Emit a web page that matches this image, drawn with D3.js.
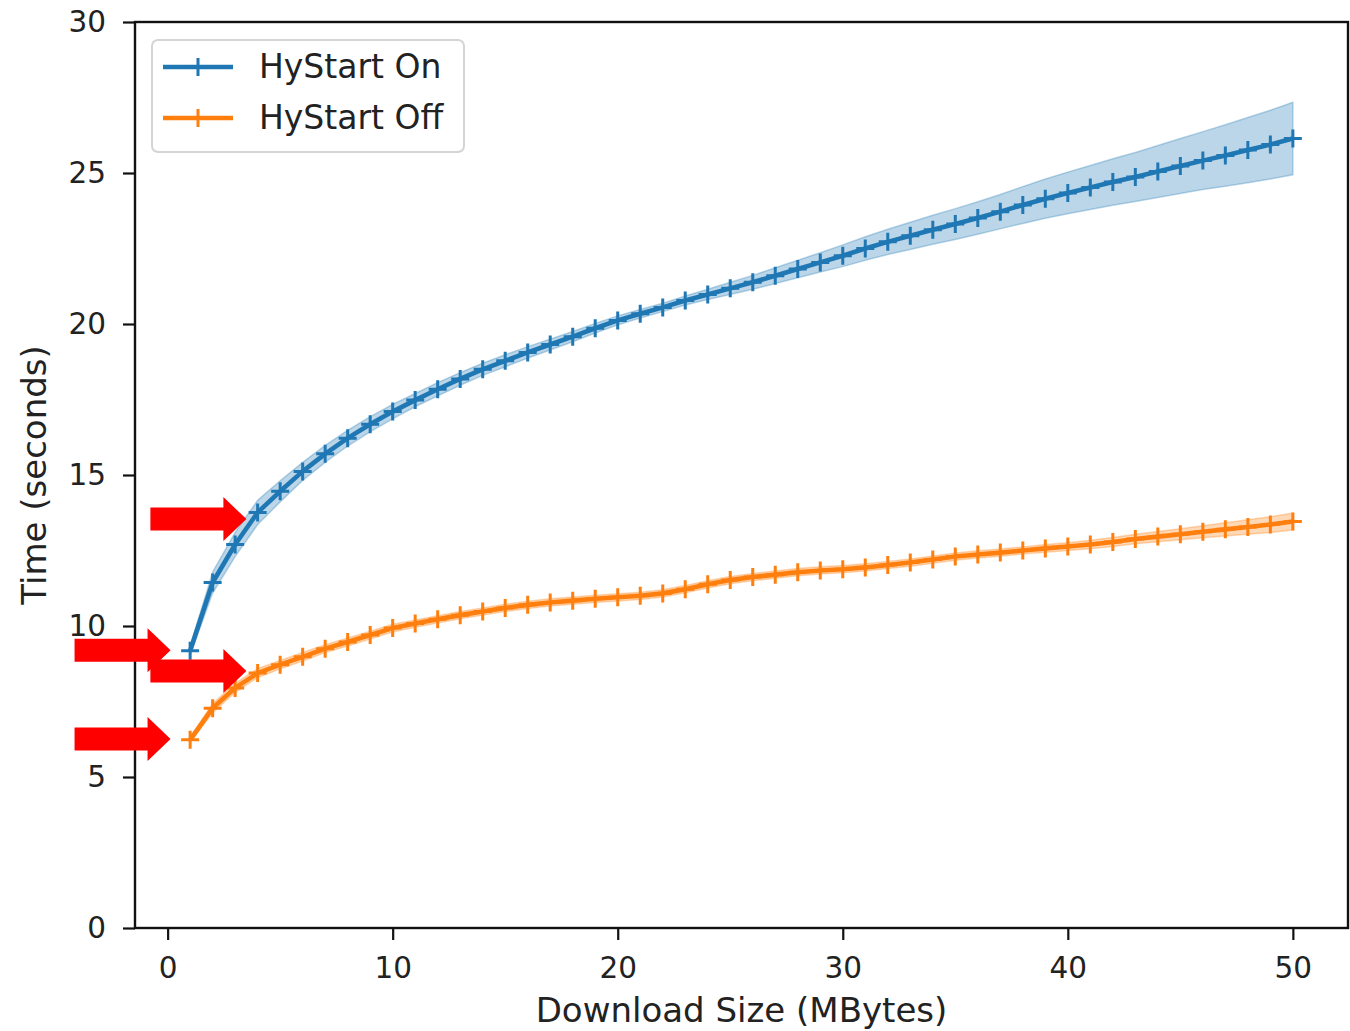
<!DOCTYPE html>
<html>
<head>
<meta charset="utf-8">
<script src="https://cdn.jsdelivr.net/npm/d3@7"></script>
<style>
  html, body { margin: 0; padding: 0; background: #fff; }
  svg { display: block; }
  text { font-family: "DejaVu Sans", sans-serif; fill: #222; }
</style>
</head>
<body>
<svg id="chart" width="1350" height="1031"></svg>
<script>
// Download size in MBytes
const sizes = [1,2,3,4,5,6,7,8,9,10,11,12,13,14,15,16,17,18,19,20,21,22,23,24,25,
               26,27,28,29,30,31,32,33,34,35,36,37,38,39,40,41,42,43,44,45,46,47,48,49,50];

// Mean completion time (seconds), HyStart enabled
const hystartOn = [9.18,11.44,12.70,13.76,14.46,15.12,15.70,16.22,16.68,17.10,
                   17.48,17.84,18.18,18.50,18.78,19.06,19.32,19.58,19.86,20.12,
                   20.34,20.55,20.78,20.98,21.18,21.38,21.60,21.82,22.04,22.26,
                   22.50,22.72,22.92,23.12,23.31,23.51,23.72,23.94,24.15,24.34,
                   24.52,24.70,24.87,25.05,25.23,25.41,25.58,25.76,25.94,26.14];
// Half-width of the spread band, HyStart enabled
const hystartOnSpread = [0.15,0.35,0.40,0.40,0.35,0.30,0.28,0.26,0.25,0.24,
                         0.22,0.22,0.21,0.20,0.20,0.19,0.18,0.17,0.16,0.15,
                         0.14,0.14,0.15,0.17,0.20,0.23,0.26,0.29,0.32,0.36,
                         0.39,0.42,0.45,0.48,0.51,0.54,0.57,0.61,0.65,0.69,
                         0.73,0.77,0.81,0.86,0.91,0.96,1.02,1.08,1.14,1.20];

// Mean completion time (seconds), HyStart disabled
const hystartOff = [6.23,7.28,7.95,8.44,8.72,8.98,9.25,9.47,9.70,9.93,
                    10.08,10.22,10.36,10.48,10.60,10.70,10.78,10.84,10.90,10.95,
                    11.00,11.08,11.22,11.38,11.52,11.62,11.70,11.78,11.84,11.88,
                    11.94,12.02,12.10,12.20,12.30,12.37,12.43,12.50,12.57,12.63,
                    12.70,12.78,12.88,12.96,13.04,13.12,13.20,13.28,13.36,13.46];
const hystartOffSpread = [0.08,0.15,0.15,0.15,0.14,0.14,0.13,0.13,0.13,0.13,
                          0.12,0.12,0.12,0.12,0.12,0.12,0.12,0.12,0.12,0.12,
                          0.12,0.12,0.12,0.12,0.12,0.12,0.12,0.12,0.12,0.12,
                          0.12,0.12,0.12,0.12,0.12,0.12,0.12,0.12,0.13,0.13,
                          0.14,0.15,0.16,0.17,0.18,0.20,0.22,0.24,0.26,0.28];

const xTicks = [0, 10, 20, 30, 40, 50];
const yTicks = [0, 5, 10, 15, 20, 25, 30];

const seriesNames = ["HyStart On", "HyStart Off"];
const seriesColors = ["#1f77b4", "#ff7f0e"];

// Callout arrows: tip location in data units (size, seconds)
const calloutTips = [
  {x: 3.5,  y: 13.54},
  {x: 0.13, y: 9.20},
  {x: 3.5,  y: 8.51},
  {x: 0.13, y: 6.26}
];

const svg = d3.select("#chart");
const plotLeft = 135, plotRight = 1348, plotTop = 22, plotBottom = 928;

const x = d3.scaleLinear().domain([-1.45, 52.45]).range([plotLeft, plotRight]);
const y = d3.scaleLinear().domain([0, 30]).range([plotBottom, plotTop]);

const series = [
  {name: seriesNames[0], color: seriesColors[0], mean: hystartOn, spread: hystartOnSpread},
  {name: seriesNames[1], color: seriesColors[1], mean: hystartOff, spread: hystartOffSpread}
];

const plot = svg.append("g");

// Spread bands
series.forEach(s => {
  const rows = sizes.map((v, i) => ({x: v, lo: s.mean[i] - s.spread[i], hi: s.mean[i] + s.spread[i]}));
  plot.append("path")
    .datum(rows)
    .attr("d", d3.area().x(d => x(d.x)).y0(d => y(d.lo)).y1(d => y(d.hi)))
    .attr("fill", s.color)
    .attr("fill-opacity", 0.3)
    .attr("stroke", s.color)
    .attr("stroke-opacity", 0.3)
    .attr("stroke-width", 1.5);
});

// Mean lines with plus markers
const plus = "M-9,0H9M0,-9V9";
series.forEach(s => {
  const rows = sizes.map((v, i) => ({x: v, y: s.mean[i]}));
  plot.append("path")
    .datum(rows)
    .attr("d", d3.line().x(d => x(d.x)).y(d => y(d.y)))
    .attr("fill", "none")
    .attr("stroke", s.color)
    .attr("stroke-width", 4.6)
    .attr("stroke-linejoin", "round");
  plot.append("g").selectAll("path")
    .data(rows)
    .join("path")
    .attr("transform", d => `translate(${x(d.x)},${y(d.y)})`)
    .attr("d", plus)
    .attr("stroke", s.color)
    .attr("stroke-width", 3);
});

// Axes
const xAxis = svg.append("g")
  .attr("transform", `translate(0,${plotBottom})`)
  .call(d3.axisBottom(x).tickValues(xTicks).tickSize(12).tickPadding(17).tickFormat(d3.format("d")));
const yAxis = svg.append("g")
  .attr("transform", `translate(${plotLeft},0)`)
  .call(d3.axisLeft(y).tickValues(yTicks).tickSize(12).tickPadding(17).tickFormat(d3.format("d")));
[xAxis, yAxis].forEach(a => {
  a.select(".domain").remove();
  a.selectAll(".tick line").attr("stroke", "#111").attr("stroke-width", 2.2);
  a.selectAll(".tick text")
    .style("font-family", "'DejaVu Sans', sans-serif")
    .style("font-size", "29.5px")
    .attr("fill", "#222");
});

// Frame
svg.append("rect")
  .attr("x", plotLeft).attr("y", plotTop)
  .attr("width", plotRight - plotLeft).attr("height", plotBottom - plotTop)
  .attr("fill", "none")
  .attr("stroke", "#111")
  .attr("stroke-width", 2.4);

// Axis titles
svg.append("text")
  .attr("x", (plotLeft + plotRight) / 2).attr("y", 1022)
  .attr("text-anchor", "middle")
  .style("font-size", "34px")
  .text("Download Size (MBytes)");
svg.append("text")
  .attr("transform", `translate(46,${(plotTop + plotBottom) / 2}) rotate(-90)`)
  .attr("text-anchor", "middle")
  .style("font-size", "34px")
  .text("Time (seconds)");

// Legend
const legend = svg.append("g");
legend.append("rect")
  .attr("x", 152).attr("y", 40).attr("width", 312).attr("height", 112)
  .attr("rx", 6)
  .attr("fill", "#fff").attr("fill-opacity", 0.8)
  .attr("stroke", "#d4d4d4").attr("stroke-width", 2);
series.forEach((s, i) => {
  const ly = 67 + i * 51;
  legend.append("line")
    .attr("x1", 163).attr("x2", 233).attr("y1", ly).attr("y2", ly)
    .attr("stroke", s.color).attr("stroke-width", 4.6);
  legend.append("path")
    .attr("transform", `translate(198,${ly})`)
    .attr("d", plus)
    .attr("stroke", s.color).attr("stroke-width", 3);
  legend.append("text")
    .attr("x", 259).attr("y", ly + 11)
    .style("font-size", "33px")
    .text(s.name);
});

// Red callout arrows
const arrow = svg.append("g");
calloutTips.forEach(t => {
  const tx = x(t.x), ty = y(t.y);
  const pts = [
    [tx - 96, ty - 11.5], [tx - 23, ty - 11.5], [tx - 23, ty - 22],
    [tx, ty], [tx - 23, ty + 22], [tx - 23, ty + 11.5], [tx - 96, ty + 11.5]
  ];
  arrow.append("polygon")
    .attr("points", pts.map(p => p.join(",")).join(" "))
    .attr("fill", "#ff0000");
});
</script>
</body>
</html>
